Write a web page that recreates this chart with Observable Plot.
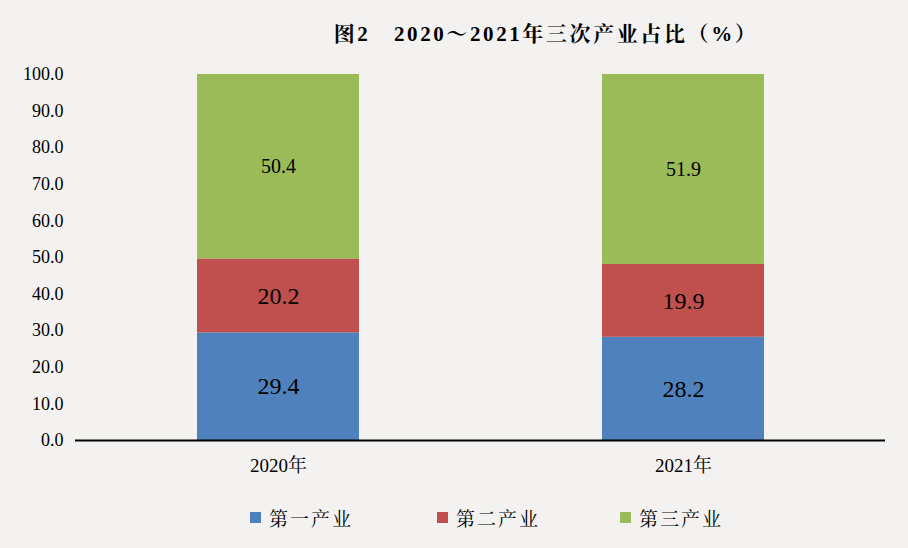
<!DOCTYPE html>
<html><head><meta charset="utf-8">
<script src="https://cdn.jsdelivr.net/npm/d3@7"></script>
<script src="https://cdn.jsdelivr.net/npm/@observablehq/plot@0.6"></script>
<style>
body{margin:0;background:#f3f2f0;}
#wrap{width:908px;height:548px;position:relative;background:#f3f2f0;font-family:"Liberation Serif","Noto Serif CJK SC","Noto Sans CJK SC",serif;color:#000;overflow:hidden;}
#title{position:absolute;left:0;top:17px;width:908px;text-align:center;padding-left:184px;box-sizing:border-box;font-weight:bold;font-size:21px;letter-spacing:2.6px;white-space:pre;}
#chart{position:absolute;left:0;top:60px;}
#legend{position:absolute;left:0;top:504px;width:908px;height:26px;}
.item{position:absolute;display:flex;align-items:center;font-size:19px;letter-spacing:2px;}
.sw{width:11px;height:11px;margin-right:8px;}
</style></head>
<body><div id="wrap"><div id="title">图2　2020～2021年三次产业占比（%）</div><div id="chart"></div><div id="legend"></div></div>
<script>
const years = ["2020年","2021年"];
const sectors = ["第一产业","第二产业","第三产业"];
const colors = ["#4F81BD","#C0504D","#9BBB59"];
const primary = [29.4, 28.2];
const secondary = [20.2, 19.9];
const tertiary = [50.4, 51.9];
const yTicks = [0,10,20,30,40,50,60,70,80,90,100];

const series = [primary, secondary, tertiary];
const data = [];
years.forEach((y, i) => {
  let base = 0;
  series.forEach((s, k) => {
    data.push({year: y, sector: sectors[k], value: s[i], y1: base, y2: base + s[i], mid: base + s[i] / 2, k});
    base += s[i];
  });
});

const plot = Plot.plot({
  width: 908, height: 420,
  marginTop: 14, marginBottom: 40, marginLeft: 75, marginRight: 23,
  style: {background: "transparent", fontFamily: "'Liberation Serif','Noto Serif CJK SC','Noto Sans CJK SC',serif", color: "#000"},
  x: {domain: years, paddingInner: 0.6, paddingOuter: 0.3, label: null},
  y: {domain: [0, 100], label: null},
  color: {domain: sectors, range: colors},
  marks: [
    Plot.axisY({ticks: yTicks, tickFormat: d3.format(".1f"), tickSize: 0, tickPadding: 12, fontSize: 18, label: null}),
    Plot.axisX({tickSize: 0, tickPadding: 18, fontSize: 19, label: null}),
    Plot.barY(data, {x: "year", y1: "y1", y2: "y2", fill: "sector"}),
    Plot.ruleY([0], {stroke: "#000", strokeWidth: 2}),
    Plot.text(data.filter(d => d.k < 2), {x: "year", y: "mid", text: d => d.value.toFixed(1), fontSize: 24, fill: "#000", letterSpacing: 1}),
    Plot.text(data.filter(d => d.k === 2), {x: "year", y: "mid", text: d => d.value.toFixed(1), fontSize: 20, fill: "#000", letterSpacing: 1})
  ]
});
document.getElementById("chart").appendChild(plot);

const legendX = [250, 437, 620];
const lg = document.getElementById("legend");
sectors.forEach((s, i) => {
  const it = document.createElement("div");
  it.className = "item";
  it.style.left = legendX[i] + "px";
  it.innerHTML = `<span class="sw" style="background:${colors[i]}"></span><span>${s}</span>`;
  lg.appendChild(it);
});
</script></body></html>
